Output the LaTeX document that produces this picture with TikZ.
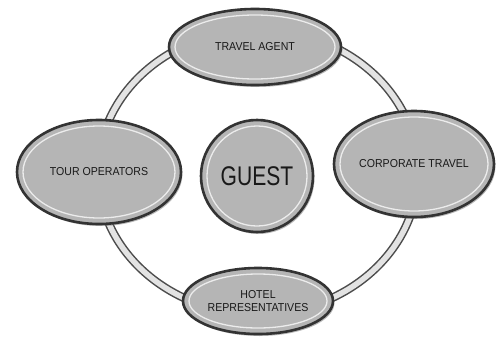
\documentclass[tikz,border=0pt]{standalone}
\usepackage{fontspec}
\setmainfont{Liberation Sans}
\usetikzlibrary{shapes.geometric,shadows}
\tikzset{
  bubble/.style={ellipse, draw=black!80, line width=2.6pt, fill=gray!58,
    drop shadow={shadow xshift=1.5pt, shadow yshift=-2pt, fill=black!55},
    inner sep=0pt, align=center, text=black!90,
    font=\fontsize{11.5}{14}\selectfont},
  rim/.style={draw=white!85!gray, line width=1.3pt},
  ring/.style={draw=black!70, line width=1.5pt, double=gray!22, double distance=5.5pt}
}
\newcommand{\sq}[1]{\scalebox{0.92}[1]{#1}}
\begin{document}
\begin{tikzpicture}[x=1pt,y=-1pt]
\useasboundingbox (0,0) rectangle (497,337);
\coordinate (c) at (258,172);
\draw[ring] (c) ellipse (160pt and 142pt);
% outer nodes
\node[bubble, minimum width=172pt, minimum height=76pt] (ta) at (255,47) {\sq{TRAVEL AGENT}};
\draw[rim] (ta.center) ellipse (80pt and 32pt);
\node[bubble, minimum width=164pt, minimum height=104pt] (to) at (99,172) {\sq{TOUR OPERATORS}};
\draw[rim] (to.center) ellipse (76pt and 46pt);
\node[bubble, minimum width=160pt, minimum height=106pt] (ct) at (414,164) {\sq{CORPORATE TRAVEL}};
\draw[rim] (ct.center) ellipse (74pt and 47pt);
\node[bubble, minimum width=150pt, minimum height=66pt] (hr) at (258,301) {\sq{HOTEL}\\[-1pt]\sq{REPRESENTATIVES}};
\draw[rim] (hr.center) ellipse (69pt and 27pt);
% centre
\node[bubble, circle, minimum size=112pt, font=\fontsize{27}{30}\selectfont] (g) at (257,176) {\scalebox{0.78}[1]{GUEST}};
\draw[rim] (g.center) circle (50pt);
\end{tikzpicture}
\end{document}
